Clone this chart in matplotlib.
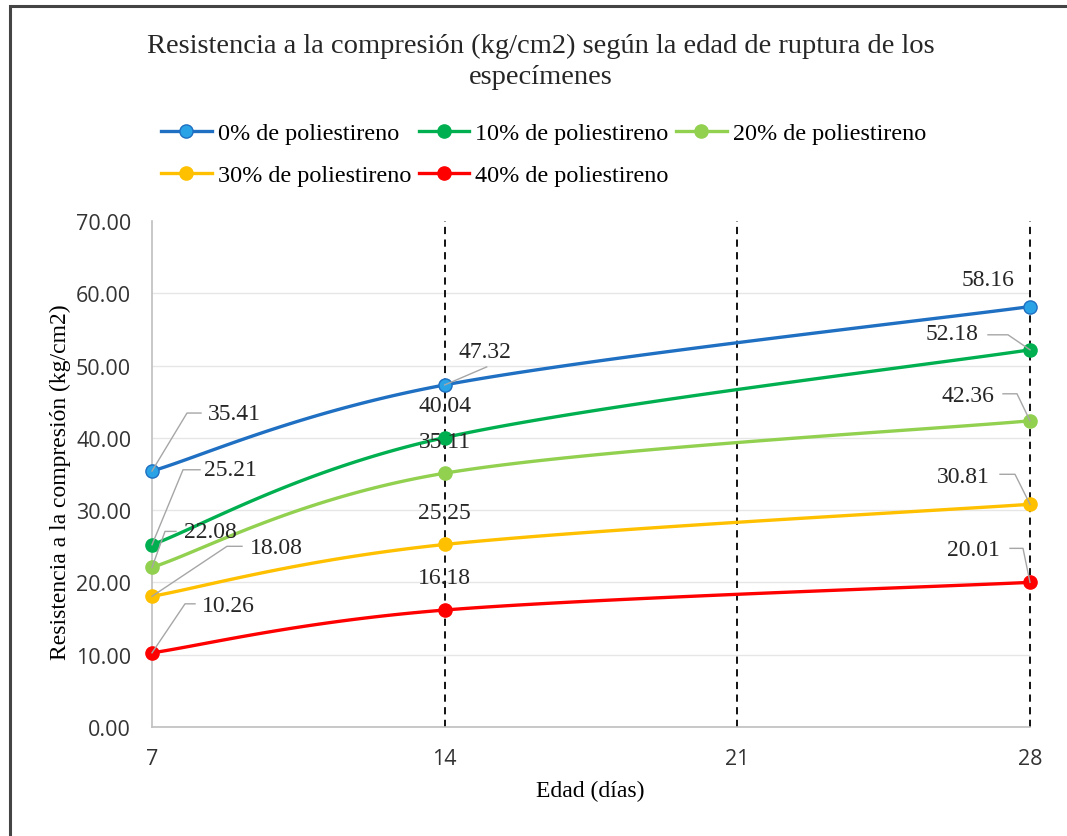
import numpy as np
import matplotlib
matplotlib.use('Agg')
import matplotlib.pyplot as plt
from matplotlib.transforms import IdentityTransform
from matplotlib.lines import Line2D
from matplotlib.patches import Rectangle

# ---------------- data ----------------
days = [7, 14, 28]
series_names = ['0% de poliestireno', '10% de poliestireno', '20% de poliestireno',
                '30% de poliestireno', '40% de poliestireno']
res_0 = [35.41, 47.32, 58.16]
res_10 = [25.21, 40.04, 52.18]
res_20 = [22.08, 35.11, 42.36]
res_30 = [18.08, 25.25, 30.81]
res_40 = [10.26, 16.18, 20.01]
x_ticks = [7, 14, 21, 28]
y_ticks = [0, 10, 20, 30, 40, 50, 60, 70]
dashed_days = [14, 21, 28]

title = 'Resistencia a la compresión (kg/cm2) según la edad de ruptura de los\nespecímenes'
xlabel = 'Edad (días)'
ylabel = 'Resistencia a la compresión (kg/cm2)'

# ---------------- style ----------------
line_colors = ['#1F6FC2', '#00B050', '#92D050', '#FFC000', '#FF0000']
face_colors = ['#2AA3E6', '#00B050', '#92D050', '#FFC000', '#FF0000']
serif = ['Liberation Serif', 'DejaVu Serif']
sans = ['Open Sans', 'DejaVu Sans']

# label offsets (pixels, y up) relative to each point
label_off = [
    [(82, 58), (40, 33), (-42, 27)],
    [(78, 75), (0, 32), (-78, 16)],
    [(58, 36), (0, 32), (-62, 25)],
    [(124, 49), (0, 32), (-67, 28)],
    [(76, 47), (0, 33), (-57, 33)],
]
# leader polylines (pixel offsets from point); None = no leader
leaders = [
    [[(0, 0), (35, 58), (49, 58)], [(0, 0), (42, 18)], None],
    [[(0, 0), (31, 75), (48, 75)], None, [(0, 0), (-22, 15), (-42, 15)]],
    [[(0, 0), (13, 36), (24, 36)], None, [(0, 0), (-13, 27), (-27, 27)]],
    [[(0, 0), (75, 50), (90, 50)], None, [(0, 0), (-15, 30), (-30, 30)]],
    [[(0, 0), (33, 49), (43, 49)], None, [(0, 0), (-7, 34), (-20, 34)]],
]

W, H = 1067, 837
fig = plt.figure(figsize=(W / 100, H / 100), dpi=100)
fig.patch.set_facecolor('white')

# outer border
fig.add_artist(Rectangle((10 / W, -0.1), 1.2, (H - 7) / H + 0.1, transform=fig.transFigure,
                         fill=False, edgecolor='#444444', linewidth=2.2))

ax = fig.add_axes([152 / W, (H - 728) / H, (1030 - 152) / W, (728 - 222) / H])
ax.set_xlim(7, 28)
ax.set_ylim(0, 70)
ax.set_xticks(x_ticks)
ax.set_xticklabels([str(v) for v in x_ticks], fontfamily=sans, fontsize=15.5, color='#333333')
ax.set_yticks(y_ticks)
ax.set_yticklabels([f'{v:.2f}' for v in y_ticks], fontfamily=sans, fontsize=15.5, color='#333333')
ax.tick_params(axis='y', length=0, pad=15)
ax.tick_params(axis='x', length=0, pad=15)
ax.grid(axis='y', color='#E6E6E6', linewidth=1)
ax.yaxis.get_gridlines()[-1].set_visible(False)
ax.set_axisbelow(True)
for s in ['top', 'right']:
    ax.spines[s].set_visible(False)
for s in ['left', 'bottom']:
    ax.spines[s].set_color('#BFBFBF')
    ax.spines[s].set_linewidth(1.2)

for d in dashed_days:
    ax.axvline(d, color='black', linestyle=(0, (4, 3)), linewidth=1.3, zorder=2, clip_on=False)

ax.set_xlabel(xlabel, fontfamily=serif, fontsize=17)
ax.set_ylabel(ylabel, fontfamily=serif, fontsize=17)
ax.xaxis.label.set_va('center')
ax.xaxis.set_label_coords(0.5 + (590 - 591) / 878, (728 - 791) / 506)
ax.yaxis.label.set_va('center')
ax.yaxis.set_label_coords((60 - 152) / 878, (728 - 482) / 506)


def smooth(xs, ys, n=60):
    P = ax.transData.transform(np.column_stack([xs, ys]))
    ext = np.vstack([P[0], P, P[-1]])
    out = []
    t = np.linspace(0, 1, n)[:, None]
    for i in range(len(P) - 1):
        p0, p1, p2, p3 = ext[i], ext[i + 1], ext[i + 2], ext[i + 3]
        c1 = p1 + (p2 - p0) / 6
        c2 = p2 - (p3 - p1) / 6
        seg = (1 - t) ** 3 * p1 + 3 * (1 - t) ** 2 * t * c1 + 3 * (1 - t) * t ** 2 * c2 + t ** 3 * p2
        out.append(seg if i == 0 else seg[1:])
    return ax.transData.inverted().transform(np.vstack(out))


all_series = [res_0, res_10, res_20, res_30, res_40]
handles = []
for k, ys in enumerate(all_series):
    curve = smooth(days, ys)
    ax.plot(curve[:, 0], curve[:, 1], color=line_colors[k], linewidth=2.4, zorder=4,
            solid_capstyle='round', clip_on=False)
    ax.plot(days, ys, linestyle='none', marker='o', markersize=9.5,
            markerfacecolor=face_colors[k], markeredgecolor=line_colors[k],
            markeredgewidth=1, zorder=5, clip_on=False)
    handles.append(Line2D([], [], color=line_colors[k], linewidth=2.4, marker='o',
                          markersize=9.5, markerfacecolor=face_colors[k],
                          markeredgecolor=line_colors[k]))
    for j, (xd, yd) in enumerate(zip(days, ys)):
        px, py = ax.transData.transform((xd, yd))
        lead = leaders[k][j]
        if lead is not None:
            xsL = [px + a for a, b in lead]
            ysL = [py + b for a, b in lead]
            fig.add_artist(Line2D(xsL, ysL, transform=IdentityTransform(),
                                  color='#A6A6A6', linewidth=1, zorder=3))
        dx, dy = label_off[k][j]
        ax.annotate(f'{yd:.2f}', xy=(xd, yd), xytext=(dx, dy), textcoords='offset pixels',
                    ha='center', va='center', fontfamily=serif, fontsize=17,
                    color='#262626', zorder=6, annotation_clip=False)

fig.text(541 / W, 1 - 62 / H, title, ha='center', va='center', fontfamily=serif,
         fontsize=20.5, linespacing=1.34, color='#262626')

order = [0, 3, 1, 4, 2]
leg = fig.legend([handles[i] for i in order], [series_names[i] for i in order],
                 ncol=3, loc='upper left', bbox_to_anchor=(149 / W, 1 - 111 / H),
                 frameon=False, prop={'family': serif, 'size': 17.4},
                 handlelength=2.1, handletextpad=0.25, columnspacing=0.3,
                 labelspacing=0.85, borderpad=0)

fig.savefig('out.png', dpi=100)
